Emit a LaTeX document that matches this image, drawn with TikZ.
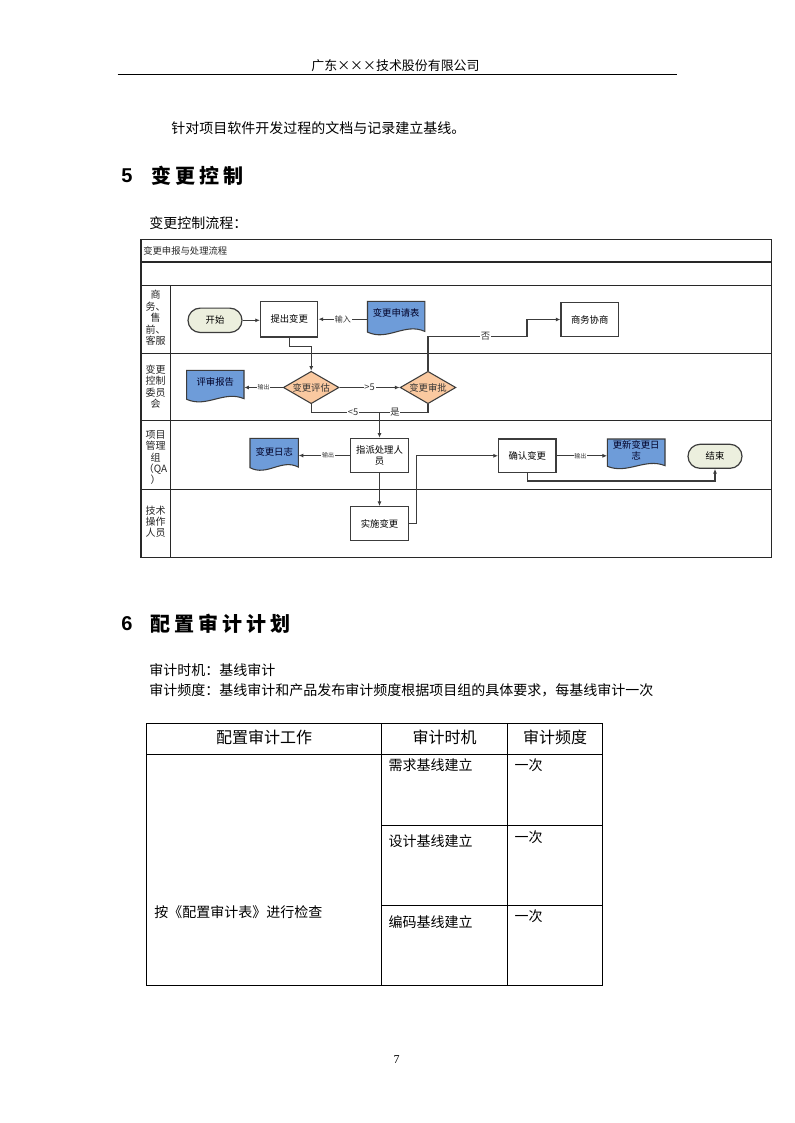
\documentclass[tikz,border=0pt]{standalone}
\usepackage{fontspec}
\setmainfont{Noto Sans CJK SC}
\newfontfamily\headcjk[LetterSpace=20]{Noto Sans CJK SC}
\newfontfamily\numfont{Liberation Sans}
\newfontfamily\pgnumfont{Liberation Serif}
\usetikzlibrary{shapes.geometric,shapes.misc,arrows.meta}
\definecolor{docblue}{RGB}{110,156,217}
\definecolor{diafill}{RGB}{250,201,160}
\definecolor{termfill}{RGB}{236,239,222}
\definecolor{lnc}{RGB}{60,60,60}
\definecolor{framec}{RGB}{40,40,40}
\newcommand\docshape[4]{\filldraw[fill=docblue,draw=lnc,line width=0.8pt] (#1,#2) -- ({#1+#3},#2) -- ({#1+#3},{#2+0.86*#4}) .. controls ({#1+0.65*#3},{#2+0.6*#4}) and ({#1+0.35*#3},{#2+1.15*#4}) .. (#1,{#2+0.88*#4}) -- cycle;}
\tikzset{
 fc/.style={font=\fontsize{7pt}{8.5pt}\selectfont},
 box/.style={fc, draw=lnc, line width=0.9pt, fill=white, minimum width=43pt, minimum height=26pt, inner sep=1pt, align=center},
 term/.style={fc, rounded rectangle, draw=lnc, line width=0.9pt, fill=termfill, minimum width=42.5pt, minimum height=18.3pt, inner sep=1pt},
 dia/.style={fc, diamond, aspect=1.72, draw=lnc, line width=0.8pt, fill=diafill, inner sep=0pt, minimum width=41.8pt, minimum height=24.3pt, text=black!80},
 doctxt/.style={fc, inner sep=0pt, align=center, text=black!85!blue, text height=6pt},
 conn/.style={draw=lnc, line width=0.9pt, -{Latex[length=3.5pt,width=3pt]}},
 plainln/.style={draw=lnc, line width=0.9pt},
 lbl/.style={fill=white, inner sep=0.6pt, font=\fontsize{7pt}{7pt}\selectfont, text=black!80},
 lblsmall/.style={fill=white, inner sep=0.6pt, font=\fontsize{6pt}{6pt}\selectfont, text=black!80},
 lbltiny/.style={fill=white, inner sep=0.6pt, font=\fontsize{4.5pt}{4.5pt}\selectfont, text=black!80},
 laneln/.style={draw=framec, line width=1.1pt},
 lanetxt/.style={inner sep=0pt, align=center, font=\fontsize{7.5pt}{8.6pt}\selectfont, text=black!85},
 body/.style={inner sep=0pt, anchor=west, font=\fontsize{10.5pt}{12pt}\selectfont},
 tbl/.style={draw=black, line width=0.75pt},
}
\begin{document}
\begin{tikzpicture}[x=0.75pt,y=-0.75pt]
\fill[white] (0,0) rectangle (794,1123);
\useasboundingbox (0,0) rectangle (794,1123);

% page header
\node[inner sep=0, font=\fontsize{9.7pt}{11pt}\selectfont] (hdr) at (395.5,66) {广东×××技术股份有限公司};
\coordinate (hl) at (117.5,74.3);
\coordinate (hr) at (677,74.3);
\draw[line width=0.75pt] (hl) -- (hr);

\node[body] (t1) at (171,128.3) {针对项目软件开发过程的文档与记录建立基线。};
\node[inner sep=0, anchor=west, font=\numfont\bfseries\fontsize{15pt}{16pt}\selectfont] (h5n) at (121,176) {5};
\node[inner sep=0, anchor=west, font=\headcjk\bfseries\fontsize{15pt}{16pt}\selectfont] (h5) at (151.5,176) {变更控制};
\node[body] (t2) at (149,223.3) {变更控制流程：};

% flowchart frame
\draw[laneln] (141,239.5) rectangle (771.7,557.3);
\draw[laneln] (141,262) -- (771.7,262);
\draw[laneln] (141,285.3) -- (771.7,285.3);
\draw[laneln] (141,353.7) -- (771.7,353.7);
\draw[laneln] (141,420.7) -- (771.7,420.7);
\draw[laneln] (141,489.3) -- (771.7,489.3);
\draw[laneln] (170.5,285.3) -- (170.5,557.3);
\node[inner sep=0, anchor=west, font=\fontsize{7pt}{8pt}\selectfont, text=black!85] (ftitle) at (143,251) {变更申报与处理流程};

\node[lanetxt] (l1) at (155.5,318) {商\\务、\\售\\前、\\客服};
\node[lanetxt] (l2) at (155.5,386.7) {变更\\控制\\委员\\会};
\node[lanetxt] (l3) at (155.5,457.5) {项目\\管理\\组\\（QA\\）};
\node[lanetxt] (l4) at (155.5,521.7) {技术\\操作\\人员};

% documents
\docshape{367.5}{301.3}{57.3}{35}
\node[doctxt, minimum width=43pt, minimum height=26.2pt, text depth=9.2pt] (shenqing) at (396.2,318.8) {变更申请表};
\docshape{186.7}{370.3}{57.3}{33}
\node[doctxt, minimum width=43pt, minimum height=24.7pt, text depth=7.8pt] (pingshen) at (215.3,386.8) {评审报告};
\docshape{250}{438.3}{48.3}{33.4}
\node[doctxt, minimum width=36.2pt, minimum height=25pt, text depth=5.6pt] (rizhi) at (274.2,455) {变更日志};
\docshape{607.3}{439}{57.7}{31}
\node[doctxt, minimum width=43.3pt, minimum height=23.2pt, text height=7.8pt, text depth=0pt] (gengxin) at (636.2,454.5) {更新变更日\\志};

% process nodes
\node[term] (start) at (215,320.3) {开始};
\node[box, minimum height=26.8pt] (tichu) at (289.2,319.2) {提出变更};
\node[box, minimum height=25.8pt] (shangwu) at (589.7,319.5) {商务协商};
\node[dia] (pinggu) at (311.2,387.5) {变更评估};
\node[dia] (shenpi) at (428,387.5) {变更审批};
\node[box, minimum height=25.8pt] (zhipai) at (379.5,455.5) {指派处理人\\员};
\node[box, minimum height=25.5pt] (shishi) at (379.5,523.7) {实施变更};
\node[box, minimum height=25.3pt] (queren) at (527.3,455.8) {确认变更};
\node[term, minimum height=18pt] (end) at (715,456.3) {结束};

\coordinate (c1) at (311.2,346.7);
\coordinate (j) at (379.5,412.3);
\coordinate (c2) at (527,336.7);
\coordinate (c3) at (416.7,523.7);
\coordinate (c4) at (715,481);

% connectors
\draw[conn] (start.east) -- (start.east -| tichu.west);
\draw[conn] (shenqing.west |- tichu.east) -- node[lblsmall] {输入} (tichu.east);
\draw[conn] (tichu.south) |- (c1) -- (pinggu.north);
\draw[conn] (pinggu.east) -- node[lbl] {>5} (shenpi.west);
\draw[conn] (pinggu.west) -- node[lbltiny] {输出} (pinggu.west -| pingshen.east);
\draw[plainln] (pinggu.south) |- node[lbl, pos=0.806] {<5} (j);
\draw[plainln] (shenpi.south) |- node[lbl, pos=0.84] {是} (j);
\draw[conn] (j) -- (zhipai.north);
\draw[plainln] (shenpi.north) |- node[lbl, pos=0.79] {否} (c2);
\draw[conn] (c2) |- (shangwu.west);
\draw[conn] (zhipai.west) -- node[lbltiny, pos=0.43] {输出} (zhipai.west -| rizhi.east);
\draw[conn] (zhipai.south) -- (shishi.north);
\draw[conn] (shishi.east) -- (c3) |- (queren.west);
\draw[conn] (queren.east) -- node[lbltiny, pos=0.47] {输出} (queren.east -| gengxin.west);
\draw[conn] (queren.south) |- (c4) -- (end.south);

% section 6
\node[inner sep=0, anchor=west, font=\numfont\bfseries\fontsize{15pt}{16pt}\selectfont] (h6n) at (121,623.3) {6};
\node[inner sep=0, anchor=west, font=\headcjk\bfseries\fontsize{15pt}{16pt}\selectfont] (h6) at (149.8,623.3) {配置审计计划};
\node[body] (t3) at (149,670) {审计时机：基线审计};
\node[body] (t4) at (149,690.7) {审计频度：基线审计和产品发布审计频度根据项目组的具体要求，每基线审计一次};

% table
\draw[tbl] (146.5,723.3) rectangle (602.5,985);
\draw[tbl] (381.5,723.3) -- (381.5,985);
\draw[tbl] (507.5,723.3) -- (507.5,985);
\draw[tbl] (146.5,754.3) -- (602.5,754.3);
\draw[tbl] (381.5,825.3) -- (602.5,825.3);
\draw[tbl] (381.5,905.3) -- (602.5,905.3);
\node[inner sep=0, font=\fontsize{12pt}{13pt}\selectfont] (th1) at (264,737) {配置审计工作};
\node[inner sep=0, font=\fontsize{12pt}{13pt}\selectfont] (th2) at (444.5,737) {审计时机};
\node[inner sep=0, font=\fontsize{12pt}{13pt}\selectfont] (th3) at (555,737) {审计频度};
\node[body] (r1a) at (388.3,765) {需求基线建立};
\node[body] (r1b) at (514.3,765) {一次};
\node[body] (r2a) at (388.3,840.7) {设计基线建立};
\node[body] (r2b) at (514.3,836.7) {一次};
\node[body] (r3a) at (388.3,921.7) {编码基线建立};
\node[body] (r3b) at (514.3,915.7) {一次};
\node[body] (work) at (154,911.7) {按《配置审计表》进行检查};

\node[inner sep=0, font=\pgnumfont\fontsize{9pt}{10pt}\selectfont] (pg) at (396.7,1059.3) {7};
\end{tikzpicture}
\end{document}
